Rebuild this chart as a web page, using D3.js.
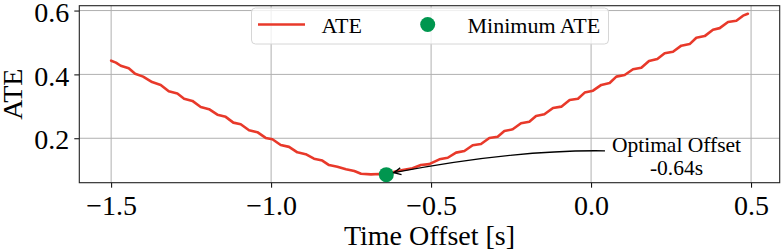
<!DOCTYPE html>
<html>
<head>
<meta charset="utf-8">
<script src="https://cdn.jsdelivr.net/npm/d3@7"></script>
<style>
  html, body { margin: 0; padding: 0; background: #fff; }
  svg { display: block; font-family: "Liberation Serif", "Times New Roman", serif; }
  svg text { font-family: "Liberation Serif", "Times New Roman", serif; }
</style>
</head>
<body>
<svg id="chart" width="781" height="252"></svg>
<script>
// ---- data ----
const offsets = [
  -1.500, -1.485, -1.470, -1.445, -1.425, -1.400, -1.372, -1.345, -1.320, -1.293,
  -1.272, -1.246, -1.220, -1.194, -1.168, -1.142, -1.118, -1.095, -1.069, -1.043,
  -1.017, -0.996, -0.970, -0.944, -0.918, -0.892, -0.866, -0.840, -0.819, -0.793,
  -0.766, -0.740, -0.719, -0.688, -0.662, -0.640, -0.615, -0.589, -0.558, -0.532,
  -0.506, -0.474, -0.448, -0.422, -0.396, -0.370, -0.344, -0.318, -0.292, -0.271,
  -0.245, -0.219, -0.193, -0.172, -0.146, -0.119, -0.093, -0.067, -0.041, -0.020,
   0.006,  0.032,  0.058,  0.079,  0.105,  0.131,  0.157,  0.181,  0.207,  0.230,
   0.256,  0.282,  0.308,  0.329,  0.355,  0.381,  0.402,  0.428,  0.454,  0.475,
   0.490
];
const ateValues = [
  0.443, 0.437, 0.427, 0.419, 0.402, 0.393, 0.376, 0.367, 0.347, 0.340,
  0.324, 0.317, 0.298, 0.291, 0.274, 0.267, 0.249, 0.244, 0.225, 0.219,
  0.201, 0.197, 0.179, 0.173, 0.156, 0.150, 0.136, 0.130, 0.116, 0.111,
  0.103, 0.0975, 0.089, 0.087, 0.088, 0.086, 0.095, 0.1006, 0.106, 0.116,
  0.119, 0.134, 0.139, 0.155, 0.160, 0.178, 0.182, 0.201, 0.205, 0.223,
  0.228, 0.247, 0.252, 0.270, 0.275, 0.295, 0.299, 0.320, 0.324, 0.343,
  0.349, 0.367, 0.373, 0.393, 0.398, 0.416, 0.421, 0.442, 0.448, 0.466,
  0.471, 0.490, 0.495, 0.515, 0.520, 0.540, 0.545, 0.564, 0.568, 0.584,
  0.590
];
const minOffset = -0.64;
const minAte = 0.086;
const xTicks = [-1.5, -1.0, -0.5, 0.0, 0.5];
const yTicks = [0.2, 0.4, 0.6];
const xLabel = "Time Offset [s]";
const yLabel = "ATE";
const legendLabels = ["ATE", "Minimum ATE"];
const annotationLines = ["Optimal Offset", "-0.64s"];
const annotationX = 0.267; // text anchor (data x)

// ---- layout ----
const W = 781, H = 252;
const m = { left: 79.3, right: 1.3, top: 5.7, bottom: 69.3 };
const red = "#e8392a", green = "#00964f";
const FONT = "Liberation Serif, Times New Roman, serif";

const svg = d3.select("#chart");
const data = offsets.map((o, i) => ({ x: o, y: ateValues[i] }));

const xExt = d3.extent(offsets), yExt = d3.extent(ateValues);
const xPad = (xExt[1] - xExt[0]) * 0.05, yPad = (yExt[1] - yExt[0]) * 0.05;
const x = d3.scaleLinear().domain([xExt[0] - xPad, xExt[1] + xPad]).range([m.left, W - m.right]);
const y = d3.scaleLinear().domain([yExt[0] - yPad, yExt[1] + yPad]).range([H - m.bottom, m.top]);

const fmt = v => d3.format(".1f")(v).replace("-", "\u2212");

// grid
const grid = svg.append("g");
grid.selectAll("line.gx").data(xTicks).join("line")
  .attr("x1", d => x(d)).attr("x2", d => x(d))
  .attr("y1", m.top).attr("y2", H - m.bottom)
  .attr("stroke", "#b0b0b0").attr("stroke-width", 1);
grid.selectAll("line.gy").data(yTicks).join("line")
  .attr("y1", d => y(d)).attr("y2", d => y(d))
  .attr("x1", m.left).attr("x2", W - m.right)
  .attr("stroke", "#b0b0b0").attr("stroke-width", 1);

// line
svg.append("path").datum(data)
  .attr("fill", "none").attr("stroke", red).attr("stroke-width", 2.6)
  .attr("stroke-linejoin", "round").attr("stroke-linecap", "round")
  .attr("d", d3.line().x(d => x(d.x)).y(d => y(d.y)));

// minimum point
svg.append("circle").attr("cx", x(minOffset)).attr("cy", y(minAte)).attr("r", 7.5).attr("fill", green);

// axes
const xAxis = svg.append("g").attr("transform", `translate(0,${H - m.bottom})`)
  .call(d3.axisBottom(x).tickValues(xTicks).tickFormat(fmt).tickSize(5).tickPadding(7));
const yAxis = svg.append("g").attr("transform", `translate(${m.left},0)`)
  .call(d3.axisLeft(y).tickValues(yTicks).tickFormat(d => d3.format(".1f")(d)).tickSize(5).tickPadding(5));
[xAxis, yAxis].forEach(a => {
  a.attr("font-size", 28).attr("font-family", FONT);
  a.select(".domain").remove();
  a.selectAll("line").attr("stroke", "#000").attr("stroke-width", 1);
  a.selectAll("text").attr("font-size", 28).attr("fill", "#000").attr("font-family", FONT);
});
xAxis.selectAll("text").attr("dy", "0.72em");
yAxis.selectAll("text").attr("dy", "0.38em");

// frame
svg.append("rect").attr("x", m.left).attr("y", m.top)
  .attr("width", W - m.right - m.left).attr("height", H - m.bottom - m.top)
  .attr("fill", "none").attr("stroke", "#222").attr("stroke-width", 1.1);

// axis labels
svg.append("text").attr("x", (m.left + W - m.right) / 2).attr("y", 245)
  .attr("text-anchor", "middle").attr("font-size", 28).text(xLabel);
svg.append("text").attr("transform", `translate(21.5,${(m.top + H - m.bottom) / 2}) rotate(-90)`)
  .attr("text-anchor", "middle").attr("font-size", 28).text(yLabel);

// legend
const lg = svg.append("g");
lg.append("rect").attr("x", 251.5).attr("y", 8).attr("width", 357).attr("height", 36)
  .attr("rx", 4).attr("fill", "#fff").attr("fill-opacity", 0.8)
  .attr("stroke", "#d6d6d6").attr("stroke-width", 1);
lg.append("line").attr("x1", 258).attr("x2", 305).attr("y1", 24.5).attr("y2", 24.5)
  .attr("stroke", red).attr("stroke-width", 2.6);
lg.append("text").attr("x", 321.5).attr("y", 32.5).attr("font-size", 22).text(legendLabels[0]);
lg.append("circle").attr("cx", 427.7).attr("cy", 24.5).attr("r", 7.5).attr("fill", green);
lg.append("text").attr("x", 467.5).attr("y", 32.5).attr("font-size", 22).text(legendLabels[1]);

// annotation
const tx = x(annotationX);
const t1 = 151.7;
svg.append("text").attr("x", tx).attr("y", t1).attr("text-anchor", "middle")
  .attr("font-size", 21.5).text(annotationLines[0]);
svg.append("text").attr("x", tx).attr("y", t1 + 23.4).attr("text-anchor", "middle")
  .attr("font-size", 21.5).text(annotationLines[1]);

const p0 = [605, 150.8];
const p2 = [x(minOffset) + 7.5, y(minAte) - 2];
const c = [515, 149.5];
svg.append("path").attr("d", `M${p0[0]},${p0[1]} Q${c[0]},${c[1]} ${p2[0]},${p2[1]}`)
  .attr("fill", "none").attr("stroke", "#000").attr("stroke-width", 1.3);
// arrow head
const ang = Math.atan2(p2[1] - c[1], p2[0] - c[0]);
const hl = 8, ha = 0.45;
const h1 = [p2[0] - hl * Math.cos(ang - ha), p2[1] - hl * Math.sin(ang - ha)];
const h2 = [p2[0] - hl * Math.cos(ang + ha), p2[1] - hl * Math.sin(ang + ha)];
svg.append("path").attr("d", `M${h1[0]},${h1[1]} L${p2[0]},${p2[1]} L${h2[0]},${h2[1]}`)
  .attr("fill", "none").attr("stroke", "#000").attr("stroke-width", 1.3);
</script>
</body>
</html>
